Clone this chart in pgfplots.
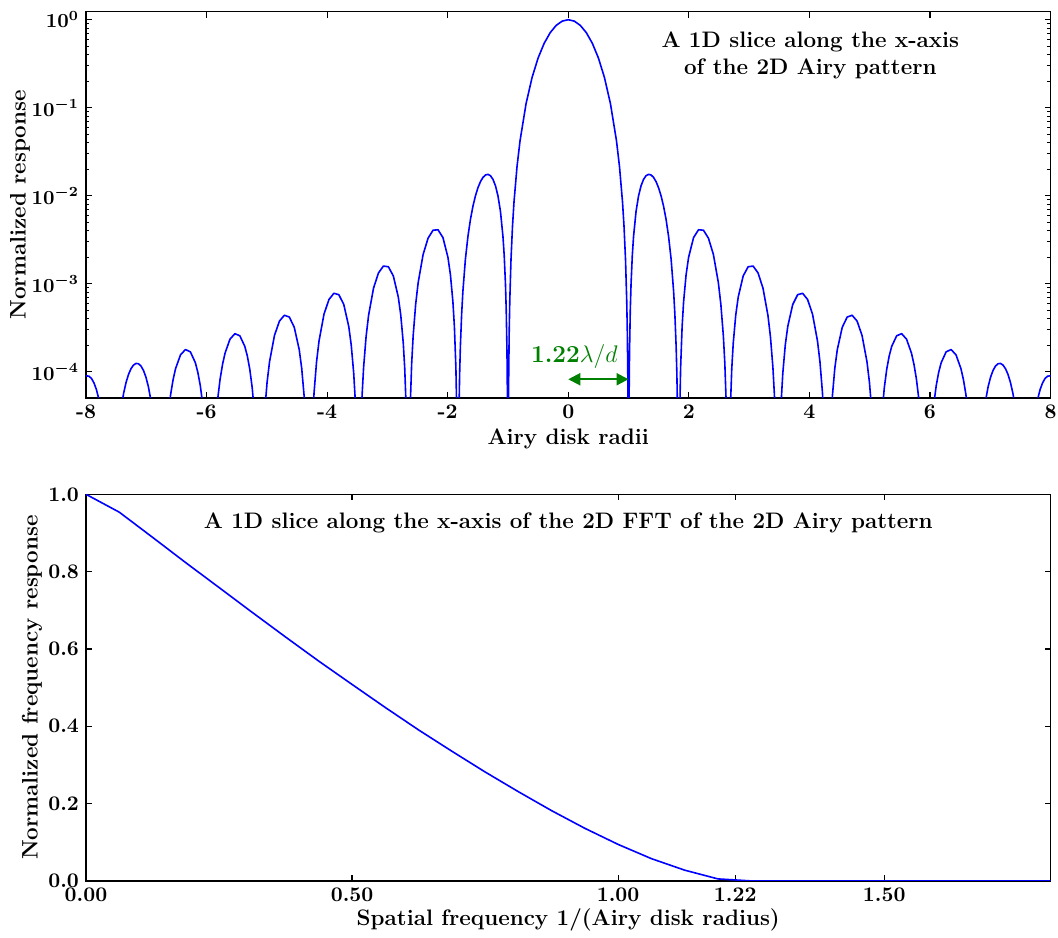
\documentclass[border=0pt]{standalone}
\usepackage{pgfplots}
\pgfplotsset{compat=1.18}
\usetikzlibrary{arrows.meta}
\definecolor{mplgreen}{RGB}{0,128,0}

% 1D slice of the Airy pattern
\pgfplotstableread{
x y
-8.0 8.918e-5
-7.9908 8.961e-5
-7.9498 8.877e-5
-7.9088 8.360e-5
-7.8677 7.453e-5
-7.8267 6.241e-5
-7.7857 4.844e-5
-7.7447 3.400e-5
-7.5807 1e-8
-7.4166 3.872e-5
-7.3756 5.698e-5
-7.3346 7.584e-5
-7.2936 9.355e-5
-7.2525 1.0840e-4
-7.2115 1.1892e-4
-7.1705 1.2401e-4
-7.1295 1.2307e-4
-7.0885 1.1611e-4
-7.0475 1.0370e-4
-7.0065 8.700e-5
-6.9654 6.764e-5
-6.9244 4.758e-5
-6.7604 1e-8
-6.6373 3.223e-5
-6.5963 5.504e-5
-6.5553 8.115e-5
-6.5142 1.0825e-4
-6.4322 1.5540e-4
-6.3502 1.7855e-4
-6.2681 1.6792e-4
-6.1861 1.2641e-4
-6.1451 9.851e-5
-6.1040 6.945e-5
-6.0630 4.229e-5
-5.9400 1e-8
-5.8169 4.788e-5
-5.7758 8.198e-5
-5.7348 1.2120e-4
-5.6938 1.6211e-4
-5.6117 2.3401e-4
-5.5297 2.7040e-4
-5.4476 2.5580e-4
-5.3655 1.9372e-4
-5.3245 1.5144e-4
-5.2835 1.0710e-4
-5.2425 6.540e-5
-5.2014 3.103e-5
-5.1194 1e-8
-5.0373 3.416e-5
-4.9962 7.556e-5
-4.9552 1.298e-4
-4.8731 2.586e-4
-4.7910 3.760e-4
-4.7089 4.379e-4
-4.6269 4.175e-4
-4.5448 3.188e-4
-4.4627 1.7773e-4
-4.4216 1.0901e-4
-4.3806 5.194e-5
-4.3560 2.632e-5
-4.2985 1e-8
-4.2410 2.852e-5
-4.2164 5.825e-5
-4.1753 1.295e-4
-4.1343 2.235e-4
-4.0521 4.498e-4
-3.9700 6.609e-4
-3.8879 7.780e-4
-3.8057 7.502e-4
-3.7236 5.796e-4
-3.6415 3.271e-4
-3.6004 2.019e-4
-3.5594 9.682e-5
-3.5347 4.926e-5
-3.4772 1e-8
-3.4444 1.758e-5
-3.4197 5.44e-5
-3.3950 1.116e-4
-3.3539 2.498e-4
-3.3128 4.345e-4
-3.2306 8.875e-4
-3.1484 1.3251e-3
-3.0662 1.5861e-3
-2.9840 1.5565e-3
-2.9017 1.2248e-3
-2.8195 7.047e-4
-2.7784 4.394e-4
-2.7373 2.129e-4
-2.7126 1.090e-4
-2.6880 3.698e-5
-2.6551 1e-8
-2.6221 3.984e-5
-2.5974 1.242e-4
-2.5727 2.564e-4
-2.5315 5.809e-4
-2.4903 1.023e-3
-2.4079 2.144e-3
-2.3254 3.289e-3
-2.2430 4.051e-3
-2.1606 4.100e-3
-2.0782 3.334e-3
-1.9958 1.987e-3
-1.9546 1.262e-3
-1.9134 6.233e-4
-1.8886 3.230e-4
-1.8639 1.109e-4
-1.8474 2.859e-5
-1.8309 1e-8
-1.8143 3.02e-5
-1.8018 9.41e-5
-1.7894 1.953e-4
-1.7686 4.50e-4
-1.7478 8.18e-4
-1.7063 1.897e-3
-1.6647 3.424e-3
-1.6232 5.345e-3
-1.5816 7.563e-3
-1.5401 9.937e-3
-1.4985 1.2289e-2
-1.4570 1.4420e-2
-1.4155 1.6122e-2
-1.3739 1.7197e-2
-1.3324 1.7485e-2
-1.2908 1.6876e-2
-1.2493 1.5348e-2
-1.2077 1.2977e-2
-1.1662 9.960e-3
-1.1246 6.625e-3
-1.0831 3.436e-3
-1.0623 2.078e-3
-1.0416 9.902e-4
-1.0291 5.052e-4
-1.0166 1.716e-4
-1.0083 4.40e-5
-1.0 1e-8
-0.99 6.69e-5
-0.98 2.757e-4
-0.97 6.395e-4
-0.95 1.870e-3
-0.925 4.493e-3
-0.9 8.497e-3
-0.85 2.141e-2
-0.8 4.206e-2
-0.7 0.1111
-0.6 0.2207
-0.5 0.3675
-0.4 0.5384
-0.3 0.7118
-0.2 0.8619
-0.1 0.9638
0 1
0.1 0.9638
0.2 0.8619
0.3 0.7118
0.4 0.5384
0.5 0.3675
0.6 0.2207
0.7 0.1111
0.8 4.206e-2
0.85 2.141e-2
0.9 8.497e-3
0.925 4.493e-3
0.95 1.870e-3
0.97 6.395e-4
0.98 2.757e-4
0.99 6.69e-5
1.0 1e-8
1.0083 4.40e-5
1.0166 1.716e-4
1.0291 5.052e-4
1.0416 9.902e-4
1.0623 2.078e-3
1.0831 3.436e-3
1.1246 6.625e-3
1.1662 9.960e-3
1.2077 1.2977e-2
1.2493 1.5348e-2
1.2908 1.6876e-2
1.3324 1.7485e-2
1.3739 1.7197e-2
1.4155 1.6122e-2
1.4570 1.4420e-2
1.4985 1.2289e-2
1.5401 9.937e-3
1.5816 7.563e-3
1.6232 5.345e-3
1.6647 3.424e-3
1.7063 1.897e-3
1.7478 8.18e-4
1.7686 4.50e-4
1.7894 1.953e-4
1.8018 9.41e-5
1.8143 3.02e-5
1.8309 1e-8
1.8474 2.859e-5
1.8639 1.109e-4
1.8886 3.230e-4
1.9134 6.233e-4
1.9546 1.262e-3
1.9958 1.987e-3
2.0782 3.334e-3
2.1606 4.100e-3
2.2430 4.051e-3
2.3254 3.289e-3
2.4079 2.144e-3
2.4903 1.023e-3
2.5315 5.809e-4
2.5727 2.564e-4
2.5974 1.242e-4
2.6221 3.984e-5
2.6551 1e-8
2.6880 3.698e-5
2.7126 1.090e-4
2.7373 2.129e-4
2.7784 4.394e-4
2.8195 7.047e-4
2.9017 1.2248e-3
2.9840 1.5565e-3
3.0662 1.5861e-3
3.1484 1.3251e-3
3.2306 8.875e-4
3.3128 4.345e-4
3.3539 2.498e-4
3.3950 1.116e-4
3.4197 5.44e-5
3.4444 1.758e-5
3.4772 1e-8
3.5347 4.926e-5
3.5594 9.682e-5
3.6004 2.019e-4
3.6415 3.271e-4
3.7236 5.796e-4
3.8057 7.502e-4
3.8879 7.780e-4
3.9700 6.609e-4
4.0521 4.498e-4
4.1343 2.235e-4
4.1753 1.295e-4
4.2164 5.825e-5
4.2410 2.852e-5
4.2985 1e-8
4.3560 2.632e-5
4.3806 5.194e-5
4.4216 1.0901e-4
4.4627 1.7773e-4
4.5448 3.188e-4
4.6269 4.175e-4
4.7089 4.379e-4
4.7910 3.760e-4
4.8731 2.586e-4
4.9552 1.298e-4
4.9962 7.556e-5
5.0373 3.416e-5
5.1194 1e-8
5.2014 3.103e-5
5.2425 6.540e-5
5.2835 1.0710e-4
5.3245 1.5144e-4
5.3655 1.9372e-4
5.4476 2.5580e-4
5.5297 2.7040e-4
5.6117 2.3401e-4
5.6938 1.6211e-4
5.7348 1.2120e-4
5.7758 8.198e-5
5.8169 4.788e-5
5.9400 1e-8
6.0630 4.229e-5
6.1040 6.945e-5
6.1451 9.851e-5
6.1861 1.2641e-4
6.2681 1.6792e-4
6.3502 1.7855e-4
6.4322 1.5540e-4
6.5142 1.0825e-4
6.5553 8.115e-5
6.5963 5.504e-5
6.6373 3.223e-5
6.7604 1e-8
6.9244 4.758e-5
6.9654 6.764e-5
7.0065 8.700e-5
7.0475 1.0370e-4
7.0885 1.1611e-4
7.1295 1.2307e-4
7.1705 1.2401e-4
7.2115 1.1892e-4
7.2525 1.0840e-4
7.2936 9.355e-5
7.3346 7.584e-5
7.3756 5.698e-5
7.4166 3.872e-5
7.5807 1e-8
7.7447 3.400e-5
7.7857 4.844e-5
7.8267 6.241e-5
7.8677 7.453e-5
7.9088 8.360e-5
7.9498 8.877e-5
7.9908 8.961e-5
8.0 8.918e-5
}\airy

% 1D slice of the FFT, sampled every 1/16
\pgfplotstableread{
f m
0 1.0
0.0625 0.9538
0.125 0.8888
0.1875 0.8231
0.25 0.7589
0.3125 0.6945
0.375 0.6309
0.4375 0.5684
0.5 0.5082
0.5625 0.4485
0.625 0.3905
0.6875 0.3355
0.75 0.2818
0.8125 0.2308
0.875 0.1817
0.9375 0.1360
1.0 0.0944
1.0625 0.0576
1.125 0.0278
1.1875 0.0052
1.25 0
1.3125 0
1.375 0
1.4375 0
1.5 0
1.5625 0
1.625 0
1.6875 0
1.75 0
1.8125 0
}\mtf

\begin{document}
\begin{tikzpicture}
\path[use as bounding box] (-43pt,-269.65pt) rectangle (486pt,198.85pt);
\pgfplotsset{
  every axis/.append style={
    scale only axis, width=482.25pt,
    axis line style={line width=0.8pt},
    tick style={black, line width=0.6pt},
    major tick length=3pt, minor tick length=1.6pt,
    tick label style={font=\fontsize{10.4}{12}\selectfont\bfseries\boldmath},
    label style={font=\fontsize{11.2}{13.5}\selectfont\bfseries},
  }
}
\begin{axis}[
  at={(0,0)}, anchor=south west,
  height=193pt,
  ymode=log,
  xmin=-8, xmax=8, ymin=5.06e-5, ymax=1.233,
  xtick={-8,-6,-4,-2,0,2,4,6,8},
  xticklabels={-8,-6,-4,-2,0,2,4,6,8},
  ytick={1e-4,1e-3,1e-2,1e-1,1},
  xlabel={Airy disk radii},
  ylabel={Normalized response},
  xlabel style={at={(axis description cs:0.5,-0.108)}, anchor=center},
  ylabel style={at={(axis description cs:-0.0684,0.5)}, anchor=center},
]
\addplot[blue, line width=0.8pt, line join=round] table[x=x, y=y] {\airy};
\draw[{Triangle[length=6pt,width=6pt]}-{Triangle[length=6pt,width=6pt]}, mplgreen, line width=1pt]
  (axis cs:0,8.2e-5) -- (axis cs:1,8.2e-5);
\node[text=mplgreen, font=\fontsize{12.2}{15}\selectfont\bfseries]
  at (axis cs:0.1,1.48e-4) {1.22$\lambda/d$};
\node[font=\fontsize{11.2}{13.8}\selectfont\bfseries, align=center]
  at (axis description cs:0.751,0.8865) {A 1D slice along the x-axis\\of the 2D Airy pattern};
\end{axis}

\begin{axis}[
  at={(0,-241.6pt)}, anchor=south west,
  height=193.3pt,
  xmin=0, xmax=1.8125, ymin=0, ymax=1,
  xtick={0,0.5,1,1.22,1.5},
  xticklabels={0.00,0.50,1.00,1.22,1.50},
  ytick={0,0.2,0.4,0.6,0.8,1},
  yticklabels={0.0,0.2,0.4,0.6,0.8,1.0},
  xlabel={Spatial frequency 1/(Airy disk radius)},
  ylabel={Normalized frequency response},
  xlabel style={at={(axis description cs:0.5,-0.102)}, anchor=center},
  ylabel style={at={(axis description cs:-0.056,0.5)}, anchor=center},
]
\addplot[blue, line width=0.8pt, line join=round] table[x=f, y=m] {\mtf};
\node[font=\fontsize{11.2}{13.5}\selectfont\bfseries]
  at (axis description cs:0.5,0.925) {A 1D slice along the x-axis of the 2D FFT of the 2D Airy pattern};
\end{axis}
\end{tikzpicture}
\end{document}
